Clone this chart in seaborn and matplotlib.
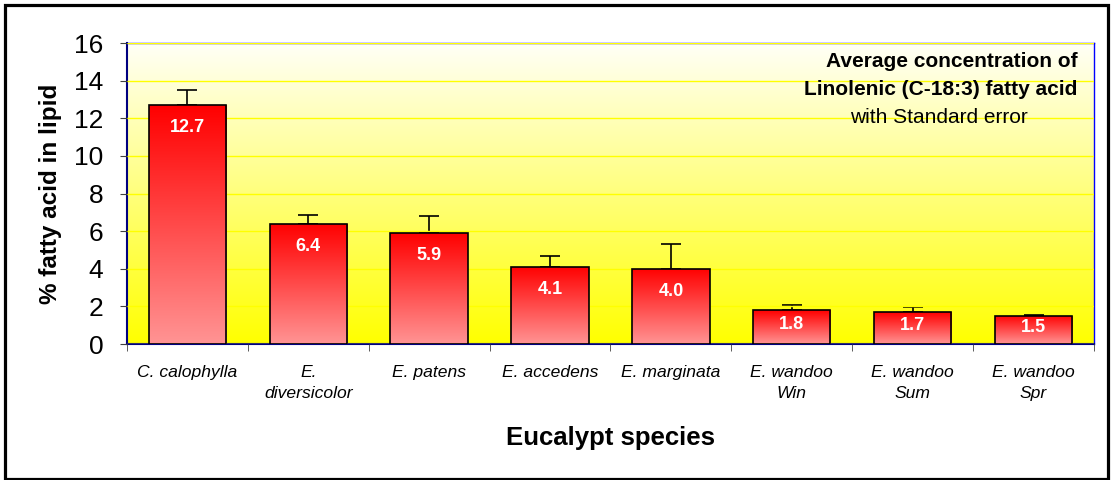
import numpy as np
import pandas as pd
import matplotlib
matplotlib.use("Agg")
import matplotlib.pyplot as plt
import seaborn as sns
from matplotlib.colors import LinearSegmentedColormap

species = ['C. calophylla', 'E.\ndiversicolor', 'E. patens', 'E. accedens',
           'E. marginata', 'E. wandoo\nWin', 'E. wandoo\nSum', 'E. wandoo\nSpr']
linolenic = [12.7, 6.4, 5.9, 4.1, 4.0, 1.8, 1.7, 1.5]
std_err = [0.8, 0.45, 0.9, 0.6, 1.3, 0.3, 0.25, 0.03]

df = pd.DataFrame({'species': species, 'value': linolenic, 'se': std_err})

sns.set_style('white')
plt.rcParams['font.family'] = ['Liberation Sans', 'DejaVu Sans']
plt.rcParams['text.color'] = 'black'
plt.rcParams['axes.labelcolor'] = 'black'
plt.rcParams['xtick.color'] = 'black'
plt.rcParams['ytick.color'] = 'black'

fig = plt.figure(figsize=(11.11, 4.8), dpi=100)
ax = fig.add_axes([0.1143, 0.2833, 0.8704, 0.6271])

sns.barplot(data=df, x='species', y='value', ax=ax, width=0.64,
            color='red', edgecolor='black', linewidth=1.2, zorder=3)
ax.set_ylim(0, 16)
ax.set_xlim(-0.5, len(species) - 0.5)

# background gradient, white at top to yellow at bottom
bg = LinearSegmentedColormap.from_list('bg', ['#ffff00', '#fffff8'])
grad = np.linspace(0, 1, 256).reshape(-1, 1)
ax.imshow(grad, cmap=bg, aspect='auto', origin='lower',
          extent=[-0.5, len(species) - 0.5, 0, 16], zorder=0)

# gradient on each bar: red at top, pink at bottom
barcmap = LinearSegmentedColormap.from_list('bar', ['#ff9494', '#ff0000'])
for p in ax.patches:
    x0, y0 = p.get_x(), p.get_y()
    w, h = p.get_width(), p.get_height()
    im = ax.imshow(grad, cmap=barcmap, aspect='auto', origin='lower',
                   extent=[x0, x0 + w, y0, y0 + h], zorder=3)
    im.set_clip_path(p)
    p.set_facecolor('none')
    p.set_zorder(4)

ax.errorbar(np.arange(len(species)), df['value'],
            yerr=[np.zeros(len(species)), df['se']],
            fmt='none', ecolor='black', elinewidth=1.2, capsize=7, capthick=1.2, zorder=2)

for i, v in enumerate(linolenic):
    off = min(1.2, v * 0.42)
    ax.text(i, v - off, f'{v:.1f}', ha='center', va='center', color='white',
            fontsize=13, fontweight='bold', zorder=5)

ax.set_yticks(range(0, 17, 2))
ax.yaxis.grid(True, color='#ffff00', linewidth=1.0, zorder=1)
ax.set_axisbelow(False)
for gl in ax.get_ygridlines():
    gl.set_zorder(1)
ax.tick_params(axis='y', labelsize=19, length=5, pad=12, direction='out', left=True, color='#404040')
ax.tick_params(axis='x', length=5, pad=10, direction='out', bottom=False)
ax.set_xticks(np.arange(len(species) + 1) - 0.5, minor=True)
ax.tick_params(axis='x', which='minor', length=5, bottom=True, color='#404040')
for lab in ax.get_xticklabels():
    lab.set_fontstyle('italic')
    lab.set_fontsize(12.6)
    lab.set_linespacing(1.55)

ax.set_xlabel('Eucalypt species', fontsize=18.5, fontweight='bold', labelpad=18)
ax.set_ylabel('% fatty acid in lipid', fontsize=17.5, fontweight='bold', labelpad=9)

for side in ['top', 'right']:
    ax.spines[side].set_color('#0000ff')
    ax.spines[side].set_linewidth(1.0)
for side in ['left', 'bottom']:
    ax.spines[side].set_color('#000080')
    ax.spines[side].set_linewidth(1.5)

ax.text(0.983, 0.937, 'Average concentration of', transform=ax.transAxes,
        ha='right', va='center', fontsize=15, fontweight='bold', zorder=6)
ax.text(0.983, 0.844, 'Linolenic (C-18:3) fatty acid', transform=ax.transAxes,
        ha='right', va='center', fontsize=15, fontweight='bold', zorder=6)
ax.text(0.84, 0.751, 'with Standard error', transform=ax.transAxes,
        ha='center', va='center', fontsize=15, zorder=6)

# outer frame
fig.patches.append(plt.Rectangle((0.0045, 0.003), 0.9932, 0.9875, transform=fig.transFigure,
                                 fill=False, edgecolor='black', linewidth=2.3))

fig.savefig('out.png', dpi=100)
